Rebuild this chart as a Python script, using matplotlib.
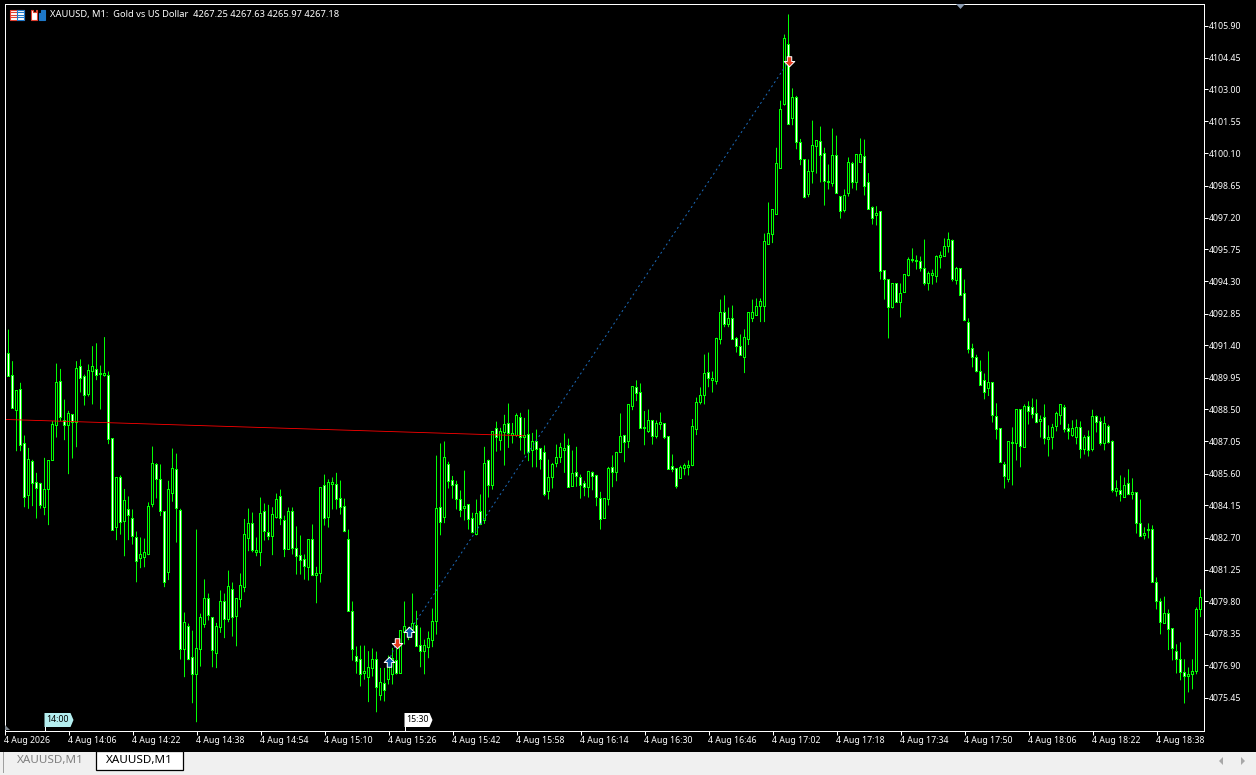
import matplotlib
matplotlib.use("Agg")
import matplotlib.pyplot as plt
import numpy as np
from matplotlib.patches import Polygon, Rectangle
from matplotlib.path import Path

plt.rcParams['font.family'] = ['Noto Sans', 'DejaVu Sans']

highs = [
4092.73,4092.12,4090.69,4089.36,4089.71,4087.32,4086.76,4086.22,4085.63,4085.18,
4086.31,4086.19,4087.97,4090.58,4090.34,4088.95,4088.44,4088.30,4090.69,4090.77,
4090.08,4090.54,4091.37,4091.50,4090.49,4091.78,4090.22,4087.17,4085.40,4085.51,
4084.90,4084.56,4083.97,4082.97,4082.70,4082.65,4084.29,4086.82,4086.07,4086.01,
4083.86,4085.27,4086.73,4086.50,4084.00,4079.30,4078.80,4078.48,4083.06,4079.25,
4080.80,4080.16,4079.06,4078.83,4080.30,4080.16,4081.20,4080.66,4079.92,4081.07,
4083.54,4084.01,4083.83,4082.70,4084.51,4084.24,4084.18,4084.07,4084.69,4084.87,
4083.69,4084.06,4084.06,4083.20,4082.79,4081.93,4082.59,4083.29,4081.37,4084.95,
4085.55,4085.33,4085.42,4085.63,4085.28,4084.46,4083.06,4079.80,4077.76,4077.80,
4077.80,4077.55,4077.67,4077.53,4076.79,4076.79,4077.35,4077.70,4077.65,4078.47,
4079.80,4078.65,4080.16,4079.38,4078.62,4078.07,4078.44,4079.48,4086.41,4086.96,
4087.05,4086.13,4085.49,4085.27,4084.83,4085.73,4084.19,4083.82,4084.42,4084.65,
4086.81,4086.23,4087.52,4087.95,4087.67,4088.26,4088.77,4087.89,4088.32,4088.35,
4088.12,4088.50,4087.44,4087.59,4086.76,4086.87,4086.23,4086.08,4086.91,4086.99,
4087.41,4087.18,4086.64,4086.81,4085.55,4085.27,4085.72,4085.69,4085.54,4084.77,
4084.45,4085.90,4086.42,4086.58,4088.32,4087.35,4088.71,4089.53,4089.82,4089.68,
4088.43,4088.50,4088.03,4088.00,4088.36,4087.87,4087.26,4086.46,4085.83,4085.96,
4086.05,4086.19,4088.07,4089.04,4089.50,4090.99,4091.08,4090.22,4091.75,4093.48,
4093.67,4093.12,4093.21,4091.78,4091.90,4092.13,4092.88,4093.48,4093.53,4093.53,
4096.47,4097.88,4097.56,4100.36,4102.49,4105.49,4106.40,4103.05,4102.71,4100.76,
4099.84,4099.83,4101.59,4100.69,4101.32,4100.36,4099.60,4101.23,4100.91,4098.18,
4098.47,4099.92,4099.72,4100.04,4100.78,4100.73,4099.21,4097.70,4097.71,4097.46,
4094.78,4094.38,4094.19,4094.19,4094.21,4094.60,4095.39,4095.80,4095.48,4095.43,
4096.20,4094.75,4094.84,4095.48,4095.66,4096.25,4096.52,4096.20,4094.96,4094.87,
4094.39,4092.63,4091.48,4090.98,4090.72,4090.13,4091.13,4089.71,4088.78,4087.63,
4086.13,4087.04,4087.69,4088.49,4088.49,4088.73,4088.87,4089.00,4088.96,4088.23,
4088.73,4087.78,4087.85,4088.40,4088.71,4088.71,4087.85,4088.01,4088.05,4087.96,
4087.33,4087.55,4088.49,4088.23,4088.14,4088.19,4087.81,4087.10,4085.29,4085.51,
4085.42,4085.79,4085.38,4084.73,4084.42,4083.16,4083.34,4083.25,4080.89,4079.94,
4080.02,4079.44,4078.57,4077.86,4077.95,4077.18,4076.81,4077.18,4079.53,4080.35,
]

body_tops = [
4092.73,4091.02,4090.04,4089.34,4089.39,4086.94,4086.22,4086.13,4085.18,4085.13,
4084.86,4086.17,4087.80,4089.71,4089.75,4088.00,4088.30,4088.26,4090.34,4090.43,
4089.98,4090.25,4090.43,4090.30,4090.11,4090.11,4090.02,4087.17,4085.40,4085.40,
4084.36,4083.95,4083.55,4082.68,4081.91,4082.00,4084.09,4086.04,4085.99,4085.31,
4083.86,4084.86,4085.81,4085.76,4083.91,4078.83,4078.65,4077.25,4077.66,4079.06,
4079.92,4079.92,4079.06,4078.65,4079.78,4079.78,4080.46,4080.33,4079.92,4080.51,
4082.82,4083.32,4083.32,4082.09,4083.81,4083.90,4082.91,4083.72,4084.40,4084.54,
4083.45,4083.90,4083.86,4082.18,4081.87,4081.69,4082.59,4082.59,4081.05,4084.95,
4085.04,4085.17,4085.19,4085.08,4084.45,4084.09,4082.59,4079.33,4077.29,4077.15,
4076.63,4076.79,4077.15,4077.15,4076.11,4076.10,4076.93,4077.20,4077.11,4078.47,
4078.65,4078.50,4078.79,4078.73,4077.79,4077.79,4078.11,4078.88,4084.00,4084.04,
4086.31,4085.99,4085.27,4085.08,4084.40,4084.09,4084.18,4083.54,4083.80,4083.86,
4086.04,4086.17,4087.49,4087.65,4087.49,4087.82,4087.85,4087.43,4088.21,4088.12,
4087.33,4087.35,4087.03,4087.06,4086.72,4086.53,4085.40,4085.99,4086.31,4086.76,
4086.72,4086.85,4085.58,4085.63,4085.40,4085.13,4085.67,4085.66,4085.49,4084.48,
4084.45,4085.81,4085.86,4086.54,4087.26,4087.31,4088.71,4089.53,4089.48,4089.26,
4087.68,4087.99,4087.99,4087.85,4087.89,4087.85,4087.26,4085.90,4085.81,4085.86,
4085.95,4085.96,4087.71,4088.80,4089.12,4090.12,4090.16,4089.90,4091.72,4092.88,
4092.88,4092.61,4092.61,4091.70,4091.37,4091.75,4092.88,4092.88,4093.15,4093.38,
4096.10,4096.46,4097.55,4099.63,4102.08,4105.30,4105.02,4102.62,4102.62,4100.58,
4099.84,4099.27,4100.45,4100.67,4100.63,4100.11,4098.83,4099.99,4099.99,4098.15,
4098.21,4099.68,4099.63,4100.04,4100.04,4099.95,4098.77,4097.64,4097.37,4097.46,
4094.78,4094.38,4094.19,4094.19,4093.74,4094.60,4095.28,4095.28,4095.25,4095.19,
4094.87,4094.65,4094.65,4095.43,4095.46,4095.87,4096.19,4096.14,4094.87,4094.87,
4093.74,4092.43,4091.25,4090.85,4090.24,4089.80,4089.71,4089.71,4088.17,4087.63,
4086.00,4087.04,4087.01,4088.49,4088.49,4088.64,4088.62,4088.58,4088.31,4088.05,
4088.13,4087.22,4087.67,4088.32,4088.71,4088.58,4087.63,4087.63,4087.67,4087.67,
4087.22,4087.27,4088.17,4088.17,4087.95,4087.85,4087.72,4087.04,4084.91,4084.85,
4085.04,4085.14,4084.73,4084.73,4083.35,4082.87,4083.07,4083.04,4080.65,4079.79,
4079.24,4079.24,4078.57,4077.52,4077.15,4076.57,4076.48,4076.62,4079.43,4079.97,
]

body_bottoms = [
4091.07,4090.01,4088.56,4088.47,4086.88,4084.53,4084.59,4085.16,4084.93,4084.16,
4084.07,4084.89,4086.20,4087.79,4088.15,4087.79,4087.79,4087.90,4087.91,4089.89,
4089.15,4089.19,4090.24,4090.05,4090.07,4090.05,4087.15,4083.00,4083.17,4083.36,
4083.44,4083.71,4082.76,4081.60,4081.76,4081.81,4081.93,4084.21,4085.34,4083.89,
4080.64,4081.13,4084.71,4084.03,4077.61,4077.61,4077.16,4076.51,4076.51,4077.61,
4078.77,4079.18,4077.59,4077.46,4078.63,4079.00,4079.00,4079.09,4079.13,4079.90,
4080.45,4082.64,4082.12,4082.00,4082.03,4082.95,4082.76,4082.76,4083.62,4083.57,
4082.17,4082.17,4082.21,4081.85,4081.67,4081.40,4081.35,4080.99,4080.99,4081.08,
4083.57,4083.62,4085.10,4084.43,4084.07,4082.98,4079.36,4077.64,4077.09,4076.50,
4076.55,4076.37,4076.78,4075.92,4075.54,4075.78,4076.28,4076.49,4076.53,4076.55,
4078.41,4078.23,4078.54,4077.77,4077.55,4077.55,4077.73,4078.05,4078.88,4083.39,
4083.59,4085.25,4085.07,4084.43,4083.94,4084.03,4083.53,4082.92,4082.83,4083.30,
4083.48,4085.07,4085.07,4087.24,4087.11,4087.47,4087.43,4087.33,4087.30,4087.24,
4087.24,4086.55,4086.65,4086.68,4086.25,4084.66,4084.77,4085.43,4086.07,4086.31,
4086.65,4084.98,4085.02,4085.48,4085.07,4084.98,4084.98,4085.48,4084.49,4083.53,
4083.57,4084.40,4085.63,4085.63,4086.57,4086.99,4087.03,4088.65,4089.21,4087.65,
4087.62,4087.50,4087.29,4087.28,4087.83,4087.25,4085.80,4085.80,4085.01,4085.39,
4085.84,4085.89,4085.98,4087.61,4088.80,4089.15,4089.89,4089.81,4089.78,4091.69,
4092.37,4092.37,4091.69,4091.37,4090.96,4090.87,4091.69,4092.64,4092.77,4093.15,
4093.15,4095.99,4096.44,4097.35,4099.40,4102.32,4101.40,4101.67,4100.58,4099.84,
4098.12,4098.23,4099.30,4100.43,4100.02,4098.85,4098.77,4098.76,4098.30,4097.49,
4097.53,4098.30,4098.80,4098.80,4099.71,4098.62,4097.58,4097.17,4097.31,4094.77,
4094.41,4093.14,4093.12,4093.35,4093.36,4093.82,4094.57,4095.24,4095.21,4094.89,
4094.21,4094.19,4094.56,4094.54,4095.40,4095.45,4095.90,4094.41,4094.36,4093.67,
4092.53,4091.24,4090.85,4090.23,4089.61,4089.29,4089.44,4088.25,4087.61,4086.12,
4085.48,4085.35,4086.96,4086.98,4086.84,4086.80,4088.43,4088.29,4087.93,4087.96,
4087.20,4087.13,4087.25,4087.75,4088.25,4087.60,4087.52,4087.34,4087.25,4086.71,
4086.71,4086.66,4086.71,4087.93,4086.98,4086.98,4087.01,4084.85,4084.80,4084.67,
4084.53,4084.67,4084.67,4083.35,4082.76,4082.78,4083.02,4080.65,4079.79,4078.87,
4078.82,4078.52,4077.69,4077.16,4076.57,4076.39,4076.39,4076.48,4076.62,4079.43,
]

lows = [
4091.07,4090.01,4088.56,4086.61,4086.61,4084.07,4084.00,4084.12,4083.56,4084.01,
4083.71,4083.26,4086.20,4087.23,4087.97,4087.11,4085.57,4086.28,4086.79,4089.27,
4088.68,4089.09,4088.73,4089.83,4088.50,4089.99,4086.93,4083.00,4082.58,4082.83,
4081.85,4082.58,4082.38,4080.67,4081.31,4081.35,4081.90,4084.07,4084.47,4083.67,
4080.45,4080.77,4084.32,4082.47,4077.17,4076.37,4077.14,4075.19,4074.33,4076.85,
4078.61,4078.94,4076.82,4076.78,4078.38,4078.14,4078.86,4078.21,4077.77,4079.53,
4080.22,4082.08,4082.03,4081.85,4081.40,4082.56,4082.58,4081.90,4083.56,4083.26,
4081.81,4082.17,4081.93,4081.02,4081.02,4080.79,4080.75,4080.95,4079.72,4080.66,
4083.24,4083.15,4083.97,4083.97,4083.74,4082.94,4079.36,4077.12,4076.53,4075.95,
4076.26,4075.24,4076.40,4074.78,4075.31,4075.27,4076.04,4076.04,4076.49,4076.55,
4077.85,4078.05,4078.38,4077.77,4076.82,4076.50,4077.23,4077.73,4078.30,4082.80,
4083.35,4084.92,4084.46,4083.97,4083.62,4083.47,4083.06,4082.89,4082.80,4083.26,
4083.32,4084.51,4084.87,4086.59,4086.64,4085.96,4086.76,4086.96,4087.26,4086.64,
4086.46,4086.16,4085.88,4085.88,4085.78,4084.57,4084.42,4084.92,4085.88,4086.08,
4085.63,4084.98,4085.02,4085.00,4084.46,4084.57,4084.51,4084.84,4084.12,4083.06,
4083.57,4084.15,4084.98,4085.25,4086.57,4086.11,4086.75,4088.47,4088.88,4087.65,
4086.88,4087.44,4086.91,4087.19,4087.58,4087.16,4085.80,4085.66,4084.92,4085.39,
4085.52,4085.51,4085.93,4087.34,4088.73,4088.73,4089.51,4089.27,4089.63,4091.45,
4092.23,4092.23,4091.69,4091.08,4090.96,4090.15,4091.42,4092.46,4092.77,4092.46,
4092.46,4095.99,4096.04,4097.35,4099.40,4102.27,4101.40,4101.38,4100.29,4099.57,
4098.07,4098.12,4098.74,4099.19,4098.79,4097.74,4098.47,4098.60,4098.30,4097.15,
4097.43,4098.15,4098.51,4098.43,4099.71,4098.20,4097.58,4096.88,4096.84,4094.39,
4093.48,4091.72,4093.08,4093.35,4092.67,4093.82,4094.53,4095.16,4094.84,4094.75,
4094.12,4093.89,4094.16,4094.25,4094.89,4095.45,4095.61,4094.30,4094.16,4093.64,
4092.50,4091.04,4090.41,4090.18,4089.61,4088.96,4089.11,4087.91,4087.14,4086.12,
4084.92,4085.20,4085.06,4086.19,4085.88,4086.80,4087.82,4088.10,4087.88,4087.23,
4086.92,4086.37,4086.69,4087.51,4087.81,4087.46,4087.14,4087.26,4086.92,4086.28,
4086.46,4086.37,4086.60,4087.46,4086.87,4086.65,4086.96,4084.74,4084.56,4084.33,
4084.53,4084.62,4084.42,4082.88,4082.76,4082.61,4082.66,4080.65,4079.44,4078.31,
4078.78,4077.60,4077.13,4076.54,4076.23,4075.18,4075.68,4075.82,4076.50,4079.09,
]

rising = [
0,0,0,1,0,0,1,0,0,0, 1,1,1,1,0,0,1,0,1,0, 0,1,1,0,1,1,0,0,1,0, 1,0,0,0,1,1,1,1,0,0,
0,1,1,0,0,1,0,0,1,1, 1,0,0,1,1,0,1,0,1,1, 1,1,0,1,1,0,0,1,1,0, 0,1,0,0,0,0,1,0,1,1,
0,1,1,0,0,0,0,0,0,0, 1,1,1,0,1,0,1,1,0,1, 1,1,1,0,0,1,1,1,1,0, 1,0,0,0,0,1,0,0,1,0,
1,0,1,0,1,1,0,1,1,0, 1,0,1,0,0,0,1,1,1,1, 1,0,1,0,0,0,1,0,0,0, 1,1,0,1,1,0,1,1,0,0,
1,1,0,1,1,0,0,0,0,1, 1,1,1,1,1,1,0,1,1,1, 0,1,0,0,0,1,1,1,1,1, 1,1,1,1,1,1,0,1,0,0,
0,1,1,1,0,0,1,1,0,0, 1,1,0,1,1,0,0,0,1,0, 0,0,1,0,1,1,1,1,1,0, 0,1,1,1,1,1,1,0,1,0,
0,0,0,0,0,0,1,0,0,0, 0,1,1,1,0,1,0,0,0,1, 0,1,1,1,1,0,0,1,1,0, 1,0,1,0,0,1,0,0,1,0,
1,0,1,0,0,1,1,0,0,0, 1,0,0,0,0,0,1,1,1,1,
]

time_tick_index = [0, 16, 32, 48, 64, 80, 96, 112, 128, 144, 160, 176, 192, 208, 224, 240, 256, 272, 288]
time_tick_labels = ['4 Aug 2026', '4 Aug 14:06', '4 Aug 14:22', '4 Aug 14:38', '4 Aug 14:54',
                    '4 Aug 15:10', '4 Aug 15:26', '4 Aug 15:42', '4 Aug 15:58', '4 Aug 16:14',
                    '4 Aug 16:30', '4 Aug 16:46', '4 Aug 17:02', '4 Aug 17:18', '4 Aug 17:34',
                    '4 Aug 17:50', '4 Aug 18:06', '4 Aug 18:22', '4 Aug 18:38']
price_ticks = [4075.45, 4076.90, 4078.35, 4079.80, 4081.25, 4082.70, 4084.15, 4085.60, 4087.05,
               4088.50, 4089.95, 4091.40, 4092.85, 4094.30, 4095.75, 4097.20, 4098.65, 4100.10,
               4101.55, 4103.00, 4104.45, 4105.90]

red_line_index = [0, 130]
red_line_price = [4088.05, 4087.31]
blue_short_index = [96, 98]
blue_short_price = [4077.08, 4077.94]
blue_long_index = [101, 196]
blue_long_price = [4078.40, 4104.27]
buy_index = [96, 101]
buy_price = [4077.08, 4078.40]
sell_index = [98, 196]
sell_price = [4077.94, 4104.27]

header_title = 'XAUUSD, M1:  Gold vs US Dollar  4267.25 4267.63 4265.97 4267.18'
tab_label = 'XAUUSD,M1'

W, H = 1256, 775
fig = plt.figure(figsize=(W / 100, H / 100), dpi=100, facecolor='black')

left, right, top, bottom = 4.5, 1203.5, 3.5, 730.5
ax = fig.add_axes([left / W, (H - bottom) / H, (right - left) / W, (bottom - top) / H], facecolor='black')
ax.set_xlim(0, (right - left) / 4)
px = 1.45 / 32
ax.set_ylim(4105.90 - (bottom - 25.5) * px, 4105.90 + (25.5 - top) * px)

x = np.arange(len(highs))
tops = np.array(body_tops)
bots = np.array(body_bottoms)
fills = ['black' if r else 'white' for r in rising]

wicks = ax.vlines(x, lows, highs, colors='#00ff00', linewidth=0.72, zorder=2)
wicks.set_snap(False)

# body outline: a 3 px wide green block with a 1 px wide fill inside it
outer_top = tops + 0.5 * px
outer_bot = bots - 0.5 * px
ax.bar(x, outer_top - outer_bot, bottom=outer_bot, width=0.75, color='#00ff00', linewidth=0, snap=True, zorder=3)
inner_h = np.maximum(tops - bots - px, 0)
ax.bar(x, inner_h, bottom=bots + 0.5 * px, width=0.25, color=fills, linewidth=0, snap=True, zorder=4)

ax.plot(red_line_index, red_line_price, color='#ff0000', linewidth=0.6, zorder=5)
for xs, ys in ((blue_short_index, blue_short_price), (blue_long_index, blue_long_price)):
    ax.plot(xs, ys, color='#1c6ab8', linewidth=0.72, linestyle=(0, (2, 3)), zorder=5)

up_arrow = Path([(0, 1), (1, 0), (0.42, 0), (0.42, -0.9), (-0.42, -0.9), (-0.42, 0), (-1, 0), (0, 1)], closed=True)
down_arrow = Path([(0, -1), (1, 0), (0.42, 0), (0.42, 0.9), (-0.42, 0.9), (-0.42, 0), (-1, 0), (0, -1)], closed=True)
ax.scatter(buy_index, buy_price, marker=up_arrow, s=58, facecolor='#0a5aa5', edgecolor='white',
           linewidth=0.72, zorder=7, clip_on=False)
ax.scatter(sell_index, sell_price, marker=down_arrow, s=58, facecolor='#e63a1e', edgecolor='white',
           linewidth=0.72, zorder=7, clip_on=False)

for s in ax.spines.values():
    s.set_color('white')
    s.set_linewidth(0.72)
    s.set_zorder(8)
ax.yaxis.tick_right()
ax.set_yticks(price_ticks, [f'{p:.2f}' for p in price_ticks])
ax.set_xticks(time_tick_index, time_tick_labels, ha='left')
ax.tick_params(axis='both', colors='white', labelcolor='white', width=0.72, length=3.2, labelsize=6.3)
ax.tick_params(axis='y', pad=1.0)
ax.tick_params(axis='x', pad=1.0)

# window chrome, in pixel coordinates
ov = fig.add_axes([0, 0, 1, 1], facecolor='none')
ov.set_xlim(0, W)
ov.set_ylim(H, 0)
ov.axis('off')
ov.add_patch(Rectangle((0, 752), W, 23, facecolor='#f0f0f0', edgecolor='none'))
ov.plot([2.5, 2.5], [752, 772], color='#a0a0a0', linewidth=0.72)
ov.add_patch(Rectangle((96, 751), 87, 19, facecolor='white', edgecolor='black', linewidth=0.9))
ov.text(17, 761, tab_label, color='#808080', fontsize=8.4, va='center', ha='left')
ov.text(106, 761, tab_label, color='black', fontsize=8.4, va='center', ha='left')
ov.add_patch(Polygon([(1223, 757), (1223, 765), (1219, 761)], facecolor='#a8a8a8', edgecolor='none'))
ov.add_patch(Polygon([(1241, 757), (1241, 765), (1245, 761)], facecolor='#a8a8a8', edgecolor='none'))
ov.add_patch(Polygon([(956, 4), (965, 4), (960.5, 9)], facecolor='#8a9ab0', edgecolor='none'))
ov.add_patch(Polygon([(5, 725), (10, 730), (5, 730)], facecolor='#808890', edgecolor='none'))

for fx, flabel, fc, fw in ((44.5, '14:00', '#b4eef0', 26), (404.5, '15:30', 'white', 25)):
    ov.plot([fx, fx], [713, 730], color='white', linewidth=0.72, zorder=5)
    ov.add_patch(Polygon([(fx, 713), (fx + fw, 713), (fx + fw + 3, 720), (fx + fw, 727), (fx, 727)],
                         facecolor=fc, edgecolor='none', zorder=5))
    ov.text(fx + 2, 720, flabel, color='black', fontsize=6.3, va='center', ha='left', zorder=6)

ov.add_patch(Rectangle((9.5, 9.5), 14, 10, facecolor='white', edgecolor='#e04030', linewidth=0.8))
ov.add_patch(Rectangle((17, 9.5), 6.5, 10, facecolor='white', edgecolor='#1e78c8', linewidth=0.8))
for yy in (12, 14.5, 17):
    ov.plot([11, 16], [yy, yy], color='#e04030', linewidth=0.8)
    ov.plot([18, 23], [yy, yy], color='#1e78c8', linewidth=0.8)
ov.add_patch(Polygon([(30.5, 9.5), (33, 9.5), (33, 12), (36, 12), (36, 9.5), (37, 9.5), (37, 19.5), (30.5, 19.5)],
                     facecolor='white', edgecolor='#e04030', linewidth=0.8))
ov.add_patch(Polygon([(38.5, 13), (41, 13), (41, 9.5), (45, 9.5), (45, 19.5), (38.5, 19.5)],
                     facecolor='#1e78c8', edgecolor='#1e78c8', linewidth=0.8))
ov.text(50, 14.3, header_title, color='white', fontsize=6.72, va='center', ha='left')

fig.savefig('out.png', dpi=100, facecolor='black')
